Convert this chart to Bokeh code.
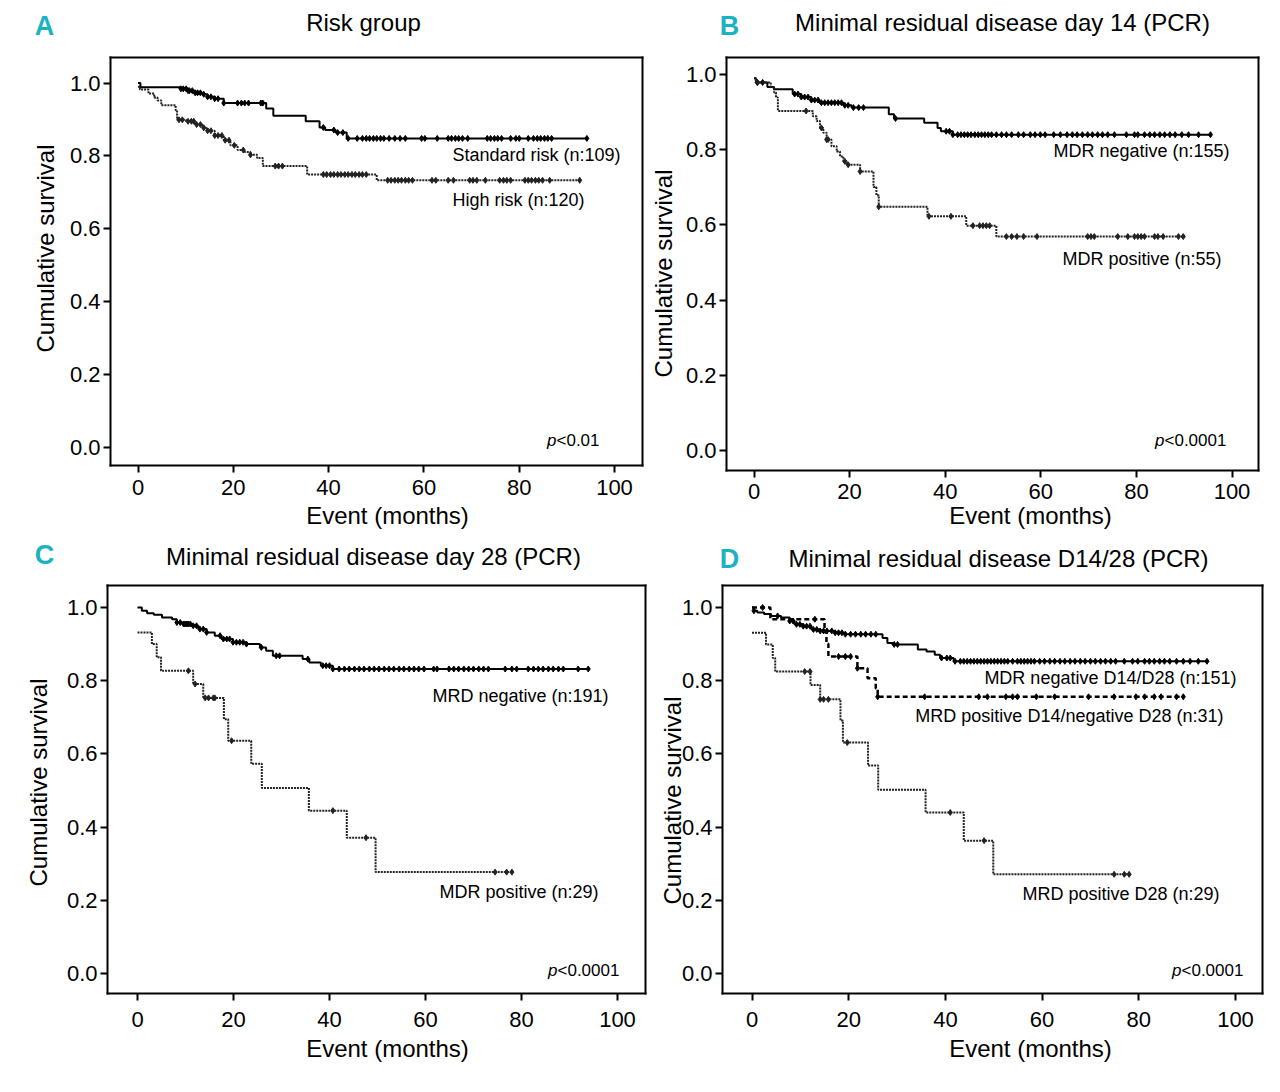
import numpy as np
from bokeh.plotting import figure
from bokeh.layouts import column, row
from bokeh.models import Label, FixedTicker, NumeralTickFormatter, LinearAxis, Range1d
from bokeh.embed import file_html
from bokeh.resources import INLINE

FONT = "Liberation Sans"
TEAL = "#1bb3c1"

# ---------------- data (months, cumulative survival) ----------------
# Panel A: Risk group
std_t = [0, 0.5, 8.8, 10.5, 12.0, 13.5, 14.6, 16.1, 18.0, 26.9, 28.4, 35.2, 38.1, 39.3, 41.5, 43.8, 94.2]
std_s = [1.0, 0.988, 0.984, 0.979, 0.973, 0.969, 0.962, 0.957, 0.945, 0.930, 0.910, 0.895, 0.878, 0.871, 0.864, 0.848, 0.848]
std_c = [9.0, 9.5, 10.1, 10.5, 10.8, 11.4, 12.0, 12.5, 13.1, 13.8, 14.6, 15.3, 16.1, 16.8, 18.0, 20.9, 21.7, 22.4,
         23.2, 25.8, 26.2, 38.9, 41.1, 41.9, 43.0, 44.1, 46.0, 47.1, 47.9, 48.6, 49.4, 50.1, 50.9, 51.6, 52.7, 53.9,
         55.0, 56.1, 59.5, 60.2, 62.8, 65.1, 65.8, 66.6, 67.3, 68.1, 69.2, 73.3, 74.0, 74.8, 75.5, 76.3, 78.2, 79.3,
         80.0, 81.9, 83.0, 83.8, 84.5, 85.3, 86.0, 86.8, 94.2]
high_t = [0, 0.4, 2.2, 3.4, 4.1, 4.9, 7.9, 8.2, 10.1, 12.0, 13.5, 14.6, 16.1, 18.0, 19.4, 20.9, 22.4, 23.6, 25.0, 26.2, 35.5, 50.1, 92.7]
high_s = [0.99, 0.982, 0.971, 0.960, 0.952, 0.939, 0.925, 0.899, 0.895, 0.886, 0.877, 0.869, 0.856, 0.843, 0.829, 0.816, 0.811, 0.803, 0.794, 0.772, 0.749, 0.733, 0.733]
high_c = [8.6, 9.3, 10.5, 11.2, 11.7, 12.3, 13.1, 13.8, 14.6, 15.3, 16.1, 16.8, 17.6, 18.3, 19.1, 20.2, 22.1, 23.6,
          28.8, 29.5, 30.3, 38.9, 39.6, 40.4, 41.1, 41.9, 42.6, 43.4, 44.1, 44.9, 45.6, 46.4, 47.1, 47.9, 52.4, 53.1,
          53.9, 54.6, 55.3, 56.1, 56.8, 57.6, 61.7, 62.5, 65.1, 66.2, 69.6, 70.3, 71.1, 72.9, 75.9, 76.7, 77.4, 78.2,
          81.2, 81.9, 82.6, 83.4, 84.1, 84.9, 86.4, 92.7]

# Panel B: MRD day 14
bneg_t = [0, 0.4, 2.8, 4.2, 8.1, 9.9, 12.0, 13.7, 18.7, 20.4, 28.2, 29.3, 35.6, 38.4, 39.1, 41.6, 95.5]
bneg_s = [0.99, 0.979, 0.967, 0.961, 0.948, 0.940, 0.932, 0.925, 0.918, 0.912, 0.894, 0.883, 0.872, 0.858, 0.849, 0.840, 0.840]
bneg_c = [0.7, 1.8, 8.5, 9.2, 9.9, 10.6, 11.3, 12.0, 12.7, 13.4, 14.1, 14.8, 15.5, 16.2, 16.9, 17.6, 18.3, 19.0,
          19.7, 20.8, 21.9, 22.9, 29.6, 40.2, 40.9, 41.6, 42.6, 43.3, 44.0, 44.7, 45.4, 46.2, 46.9, 47.6, 48.3, 49.0,
          49.7, 50.7, 51.8, 52.8, 53.9, 55.3, 56.4, 57.8, 58.8, 59.9, 60.9, 62.7, 64.1, 65.5, 66.6, 67.6, 68.7, 69.8,
          70.8, 71.9, 72.9, 74.0, 75.4, 77.9, 79.6, 80.3, 81.7, 82.8, 83.8, 84.9, 85.9, 87.0, 88.1, 89.5, 90.9, 93.0, 95.5]
bpos_t = [0, 0.4, 3.5, 4.2, 4.6, 5.0, 12.3, 13.1, 13.8, 14.5, 15.2, 16.2, 17.3, 18.0, 18.7, 19.4, 22.2, 25.0, 25.6, 26.1, 36.3, 44.4, 50.7, 90.2]
bpos_s = [0.99, 0.979, 0.966, 0.952, 0.939, 0.903, 0.889, 0.876, 0.858, 0.845, 0.827, 0.809, 0.795, 0.782, 0.769, 0.760, 0.742, 0.701, 0.679, 0.648, 0.623, 0.598, 0.569, 0.569]
bpos_c = [0.7, 10.9, 14.1, 15.2, 15.5, 19.0, 19.7, 22.2, 26.1, 36.6, 41.2, 45.8, 47.2, 47.9, 48.6, 49.3, 52.8, 53.9,
          55.0, 56.4, 59.2, 69.8, 70.5, 71.2, 76.1, 78.2, 79.6, 80.3, 81.0, 81.7, 83.8, 84.5, 85.6, 88.8, 89.8]

# Panel C: MRD day 28
cneg_t = [0, 0.9, 2.0, 3.4, 5.1, 7.2, 8.2, 9.6, 11.3, 12.7, 14.4, 16.1, 17.5, 19.9, 22.7, 25.5, 26.8, 28.2, 34.4, 35.8, 38.2, 40.7, 93.9]
cneg_s = [1.0, 0.991, 0.984, 0.980, 0.973, 0.968, 0.959, 0.955, 0.950, 0.941, 0.932, 0.923, 0.914, 0.905, 0.900, 0.891, 0.882, 0.868, 0.859, 0.850, 0.841, 0.832, 0.832]
cneg_c = [8.2, 8.9, 9.6, 9.9, 10.3, 10.6, 11.0, 11.6, 12.3, 13.0, 13.7, 14.4, 17.2, 17.9, 18.6, 19.2, 19.9, 20.6,
          21.3, 22.0, 22.7, 25.8, 28.9, 29.6, 35.5, 38.6, 39.3, 40.0, 40.7, 42.0, 43.1, 44.1, 45.2, 46.2, 47.2, 48.3,
          49.3, 50.3, 51.4, 52.4, 53.4, 54.5, 55.5, 56.6, 57.6, 58.6, 59.7, 61.7, 62.4, 64.9, 65.9, 66.9, 68.0, 69.0,
          70.0, 71.1, 72.1, 73.1, 76.6, 78.0, 79.0, 81.4, 82.5, 83.5, 84.5, 85.6, 86.6, 87.7, 88.7, 91.8, 93.9]
cpos_t = [0, 3.0, 4.0, 4.9, 11.6, 13.7, 18.0, 18.9, 23.7, 25.9, 35.7, 43.6, 49.6, 78.0]
cpos_s = [0.932, 0.900, 0.864, 0.827, 0.791, 0.753, 0.695, 0.636, 0.573, 0.507, 0.445, 0.371, 0.277, 0.277]
cpos_c = [10.6, 12.0, 14.1, 14.8, 15.8, 16.1, 19.6, 40.7, 47.6, 74.5, 76.9, 78.0]

# Panel D: MRD D14/28
dneg_t = [0, 0.4, 1.1, 2.5, 3.9, 6.0, 7.8, 8.8, 10.6, 12.3, 14.1, 17.2, 19.3, 27.0, 28.0, 29.1, 34.3, 36.1, 37.8, 38.9, 41.7, 94.1]
dneg_s = [1.0, 0.991, 0.986, 0.982, 0.977, 0.973, 0.963, 0.954, 0.949, 0.940, 0.936, 0.931, 0.927, 0.917, 0.903, 0.899, 0.885, 0.880, 0.871, 0.862, 0.853, 0.853]
dneg_c = [0.4, 5.3, 7.8, 8.5, 9.2, 9.9, 10.6, 11.3, 12.0, 12.7, 13.4, 14.1, 14.8, 15.5, 16.5, 17.2, 17.9, 18.6, 19.3,
          20.4, 21.4, 22.5, 23.5, 24.6, 25.6, 29.4, 30.1, 39.2, 40.3, 41.0, 42.0, 43.1, 43.8, 44.5, 45.2, 45.9, 46.6,
          47.3, 48.0, 48.7, 49.4, 50.1, 50.8, 51.5, 52.2, 52.9, 53.9, 54.9, 55.6, 56.3, 57.0, 57.7, 58.4, 59.5, 60.5,
          61.6, 62.6, 63.7, 64.7, 65.8, 66.8, 67.9, 68.9, 70.0, 71.0, 72.1, 73.1, 74.2, 75.2, 77.0, 78.7, 79.8, 81.2,
          82.2, 83.2, 84.3, 85.3, 86.4, 87.8, 89.2, 90.6, 92.3, 94.1]
dmid_t = [0, 3.8, 15.0, 15.4, 15.8, 21.8, 23.9, 25.6, 26.0, 89.2]
dmid_s = [1.0, 0.968, 0.935, 0.901, 0.866, 0.834, 0.807, 0.779, 0.756, 0.756]
dmid_c = [2.2, 13.0, 17.9, 19.3, 20.4, 21.8, 26.0, 35.7, 46.9, 48.7, 52.5, 53.9, 54.9, 58.8, 62.6, 69.6, 74.9,
          79.4, 81.2, 83.2, 84.6, 87.8, 89.2]
dpos_t = [0, 2.9, 4.3, 4.8, 12.1, 14.1, 18.3, 18.8, 24.0, 26.1, 35.9, 43.8, 49.9, 78.0]
dpos_s = [0.931, 0.899, 0.862, 0.825, 0.788, 0.749, 0.691, 0.631, 0.568, 0.502, 0.440, 0.363, 0.271, 0.271]
dpos_c = [10.9, 12.0, 14.1, 14.8, 15.8, 19.7, 41.0, 48.0, 74.9, 77.0, 78.0]

x_ticks = [0, 20, 40, 60, 80, 100]
y_ticks = [0.0, 0.2, 0.4, 0.6, 0.8, 1.0]


def censor_y(times, surv, cens):
    t = np.asarray(times)
    s = np.asarray(surv)
    idx = np.searchsorted(t, np.asarray(cens), side="right") - 1
    return s[np.clip(idx, 0, len(s) - 1)]


class Panel:
    """One quadrant: the plotting frame fills the whole canvas; the boxed axes
    are placed with fixed_location so texts around them are never clipped."""

    def __init__(self, fig_box, box, x0_px, px_per_month, s1_py, s0_py, xstand=5):
        self.fl, self.ft, self.fr, self.fb = fig_box
        self.x0 = x0_px
        self.kx = px_per_month
        self.s0 = s0_py
        self.ky = (s0_py - s1_py)
        xr = Range1d(self.dx(self.fl), self.dx(self.fr))
        yr = Range1d(self.dy(self.fb), self.dy(self.ft))
        p = figure(width=self.fr - self.fl, height=self.fb - self.ft, x_range=xr, y_range=yr,
                   x_axis_type=None, y_axis_type=None,
                   output_backend="svg", toolbar_location=None,
                   min_border=0, min_border_left=0, min_border_right=0,
                   min_border_top=0, min_border_bottom=0)
        p.xgrid.visible = False
        p.ygrid.visible = False
        p.outline_line_color = None
        p.background_fill_color = "white"
        p.border_fill_color = "white"
        L, T, R, B = box
        xL, xR, yT, yB = self.dx(L), self.dx(R), self.dy(T), self.dy(B)

        def style(ax, ticks, labels=True):
            ax.axis_line_color = "black"
            ax.axis_line_width = 2
            ax.axis_line_cap = "square"
            ax.major_tick_line_width = 2
            ax.major_tick_out = 7
            ax.major_tick_in = 0
            ax.minor_tick_line_color = None
            ax.ticker = FixedTicker(ticks=ticks)
            ax.major_label_text_font = FONT
            ax.major_label_text_font_size = "22px" if labels else "0px"
            ax.major_label_text_color = "black"
            ax.major_label_standoff = 3
            if not labels:
                ax.major_tick_line_color = None

        xb = LinearAxis(fixed_location=yB, bounds=(xL, xR))
        style(xb, x_ticks)
        xb.major_label_standoff = xstand
        yl = LinearAxis(fixed_location=xL, bounds=(yB, yT), formatter=NumeralTickFormatter(format="0.0"))
        style(yl, y_ticks)
        xt = LinearAxis(fixed_location=yT, bounds=(xL, xR))
        style(xt, [], labels=False)
        yrr = LinearAxis(fixed_location=xR, bounds=(yB, yT))
        style(yrr, [], labels=False)
        p.add_layout(xb, "below")
        p.add_layout(yl, "left")
        p.add_layout(xt, "above")
        p.add_layout(yrr, "right")
        self.p = p

    def dx(self, px):
        return (px - self.x0) / self.kx

    def dy(self, py):
        return (self.s0 - py) / self.ky

    def put(self, px, py, text, size="18px", align="center", angle=0.0, style="normal", color="black"):
        self.p.add_layout(Label(x=self.dx(px), y=self.dy(py), text=text,
                                text_align=align, text_baseline="middle", angle=angle,
                                text_font=FONT, text_font_size=size, text_font_style=style,
                                text_color=color))

    def curve(self, t, s, c, dash="solid", width=2.0, color="black"):
        self.p.step(x=t, y=s, mode="after", line_color=color, line_width=width, line_dash=dash)
        self.p.scatter(x=c, y=censor_y(t, s, c), marker="diamond", size=6, color=color)

    def texts(self, letter, lpos, title, tpos, ylpos, xlpos):
        self.put(lpos[0], lpos[1], letter, size="27px", style="bold", color=TEAL)
        self.put(tpos[0], tpos[1], title, size="24px")
        self.put(ylpos[0], ylpos[1], "Cumulative survival", size="24px", angle=np.pi / 2)
        self.put(xlpos[0], xlpos[1], "Event (months)", size="24px")

    def pval(self, px, py, rest):
        self.put(px, py, "p", size="17px", align="right", style="italic")
        self.put(px, py, rest, size="17px", align="left")


# ---------------- Panel A ----------------
A = Panel((0, 0, 648, 540), (110, 57, 642, 465), 137.5, 4.765, 82.5, 447.0, xstand=7)
A.curve(std_t, std_s, std_c)
A.curve(high_t, high_s, high_c, dash="2 1", color="#222222")
A.texts("A", (44, 25), "Risk group", (363, 22), (45, 248), (387, 515))
A.put(620, 154, "Standard risk (n:109)", align="right")
A.put(584, 199, "High risk (n:120)", align="right")
A.pval(556, 440, "<0.01")

# ---------------- Panel B ----------------
Bp = Panel((648, 0, 1276, 540), (726, 57, 1258, 470), 753.5, 4.78, 74.0, 450.0, xstand=6)
Bp.curve(bneg_t, bneg_s, bneg_c)
Bp.curve(bpos_t, bpos_s, bpos_c, dash="2 1", color="#222222")
Bp.texts("B", (729, 25), "Minimal residual disease day 14 (PCR)", (1002, 22), (663, 273), (1030, 515))
Bp.put(1229, 150, "MDR negative (n:155)", align="right")
Bp.put(1221, 258, "MDR positive (n:55)", align="right")
Bp.pval(1164, 440, "<0.0001")

# ---------------- Panel C ----------------
C = Panel((0, 540, 648, 1088), (107, 585, 645, 993), 137.0, 4.8, 607.0, 973.0, xstand=11)
C.curve(cneg_t, cneg_s, cneg_c)
C.curve(cpos_t, cpos_s, cpos_c, dash="2 1", color="#222222")
C.texts("C", (44, 554), "Minimal residual disease day 28 (PCR)", (373, 556), (38, 782), (387, 1048))
C.put(608, 695, "MRD negative (n:191)", align="right")
C.put(598, 891, "MDR positive (n:29)", align="right")
C.pval(557, 970, "<0.0001")

# ---------------- Panel D ----------------
D = Panel((648, 540, 1276, 1088), (722, 585, 1262, 993), 751.5, 4.835, 607.0, 973.0, xstand=11)
D.curve(dneg_t, dneg_s, dneg_c)
D.curve(dmid_t, dmid_s, dmid_c, dash="5 3", width=2.5)
D.curve(dpos_t, dpos_s, dpos_c, dash="2 1", color="#222222")
D.texts("D", (729, 558), "Minimal residual disease D14/28 (PCR)", (998, 558), (672, 800), (1030, 1048))
D.put(1236, 677, "MDR negative D14/D28 (n:151)", align="right")
D.put(1223, 715, "MRD positive D14/negative D28 (n:31)", align="right")
D.put(1219, 893, "MRD positive D28 (n:29)", align="right")
D.pval(1181, 970, "<0.0001")

layout = column(row(A.p, Bp.p, spacing=0), row(C.p, D.p, spacing=0), spacing=0)
open("out.html", "w").write(file_html(layout, INLINE, title="Survival curves"))
